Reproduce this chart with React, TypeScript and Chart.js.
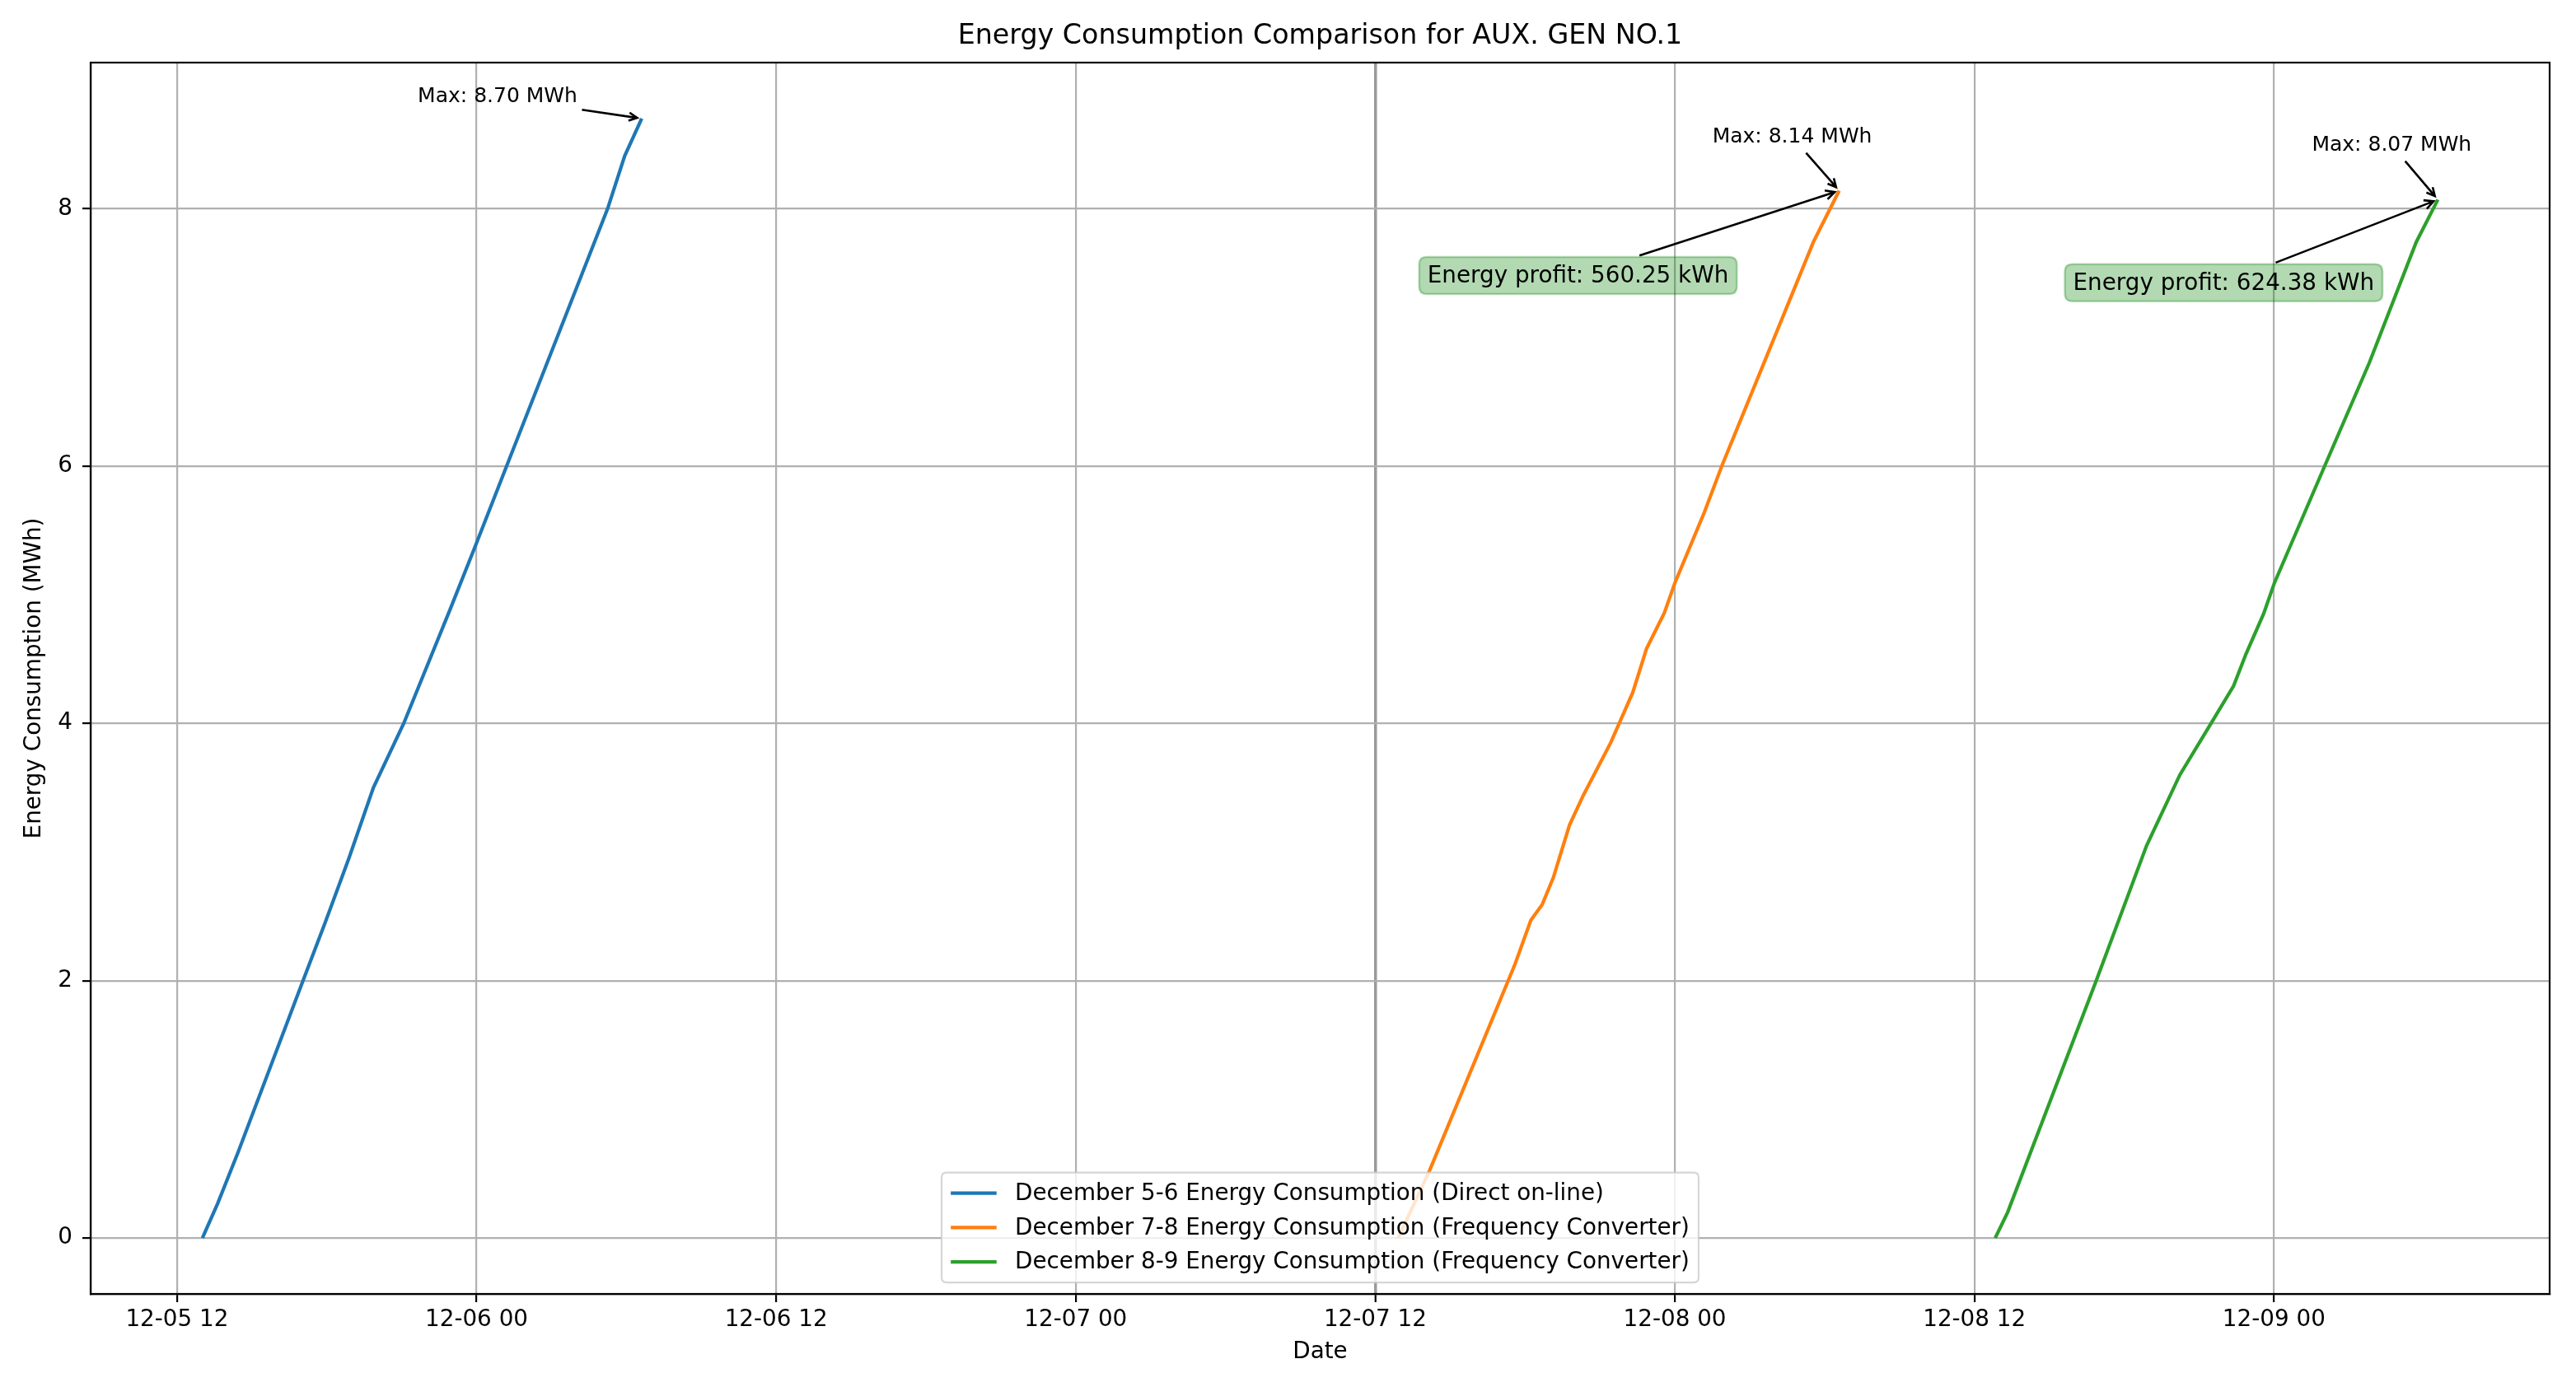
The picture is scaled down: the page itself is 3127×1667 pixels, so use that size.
import React, { useEffect, useRef } from 'react';
import { Chart, registerables } from 'chart.js';

Chart.register(...registerables);

const FONT = '"DejaVu Sans", Verdana, sans-serif';

// Readings, "MM-DD HH:mm" -> cumulative energy (MWh)
const dec56Times = [
  '12-05 13:01', '12-05 13:38', '12-05 14:26', '12-05 17:03', '12-05 17:56', '12-05 18:53',
  '12-05 19:52', '12-05 21:05', '12-05 22:57', '12-05 23:56', '12-06 01:16', '12-06 03:10',
  '12-06 05:15', '12-06 05:56', '12-06 06:37'
];
const dec56Values = [0, 0.27, 0.66, 2.0, 2.45, 2.95, 3.5, 4.0, 4.89, 5.37, 6.03, 6.97, 8.0, 8.41, 8.7];

const dec78Times = [
  '12-07 12:55', '12-07 14:10', '12-07 17:35', '12-07 18:14', '12-07 18:41', '12-07 19:08',
  '12-07 19:47', '12-07 20:20', '12-07 21:26', '12-07 22:19', '12-07 22:52', '12-07 23:35',
  '12-08 00:00', '12-08 01:11', '12-08 01:53', '12-08 04:02', '12-08 05:33', '12-08 06:35'
];
const dec78Values = [0, 0.52, 2.12, 2.47, 2.59, 2.8, 3.21, 3.44, 3.85, 4.24, 4.58, 4.86, 5.09, 5.64, 6.0, 7.02, 7.74, 8.14];

const dec89Times = [
  '12-08 12:50', '12-08 13:20', '12-08 16:53', '12-08 18:54', '12-08 20:14', '12-08 21:29',
  '12-08 22:23', '12-08 22:53', '12-08 23:35', '12-09 00:01', '12-09 02:02', '12-09 03:49',
  '12-09 05:42', '12-09 06:34'
];
const dec89Values = [0, 0.2, 2.0, 3.05, 3.6, 4.0, 4.29, 4.54, 4.85, 5.09, 6.0, 6.8, 7.74, 8.07];

const seriesLabels = [
  'December 5-6 Energy Consumption (Direct on-line)',
  'December 7-8 Energy Consumption (Frequency Converter)',
  'December 8-9 Energy Consumption (Frequency Converter)'
];
const seriesColors = ['#1f77b4', '#ff7f0e', '#2ca02c'];

const xTickHours = [12, 24, 36, 48, 60, 72, 84, 96];
const xTickLabels = ['12-05 12', '12-06 00', '12-06 12', '12-07 00', '12-07 12', '12-08 00', '12-08 12', '12-09 00'];
const yTicks = [0, 2, 4, 6, 8];

const maxLabels = ['Max: 8.70 MWh', 'Max: 8.14 MWh', 'Max: 8.07 MWh'];
const profitLabels = ['', 'Energy profit: 560.25 kWh', 'Energy profit: 624.38 kWh'];

// hours since 12-05 00:00
const toHours = (s: string) => {
  const day = parseInt(s.slice(3, 5), 10);
  const hh = parseInt(s.slice(6, 8), 10);
  const mm = parseInt(s.slice(9, 11), 10);
  return (day - 5) * 24 + hh + mm / 60;
};

const toPoints = (times: string[], values: number[]) =>
  times.map((t, i) => ({ x: toHours(t), y: values[i] }));

const allX = [...dec56Times, ...dec78Times, ...dec89Times].map(toHours);
const allY = [...dec56Values, ...dec78Values, ...dec89Values];
const xMin0 = Math.min(...allX);
const xMax0 = Math.max(...allX);
const yMin0 = Math.min(...allY);
const yMax0 = Math.max(...allY);
const xPad = (xMax0 - xMin0) * 0.05;
const yPad = (yMax0 - yMin0) * 0.05;

// text offsets (px) from the end point of each series
const maxOffsets = [[-175, -26], [-57, -65], [-56, -66]];
const profitOffsets = [[0, 0], [-317, 103], [-260, 101]];

const W = 3127;
const H = 1667;

function arrow(ctx: CanvasRenderingContext2D, sx: number, sy: number, tx: number, ty: number,
  hw: number, hh: number, headLen: number, headHalf: number) {
  const dx = tx - sx;
  const dy = ty - sy;
  const t = Math.min(hw / Math.abs(dx || 1e-6), hh / Math.abs(dy || 1e-6));
  const len = Math.hypot(dx, dy);
  const ux = dx / len;
  const uy = dy / len;
  const x1 = sx + dx * t + ux * 5.6;
  const y1 = sy + dy * t + uy * 5.6;
  const x2 = tx - ux * 5.6;
  const y2 = ty - uy * 5.6;
  ctx.save();
  ctx.strokeStyle = '#000';
  ctx.lineWidth = 2.6;
  ctx.lineCap = 'butt';
  ctx.beginPath();
  ctx.moveTo(x1, y1);
  ctx.lineTo(x2, y2);
  ctx.moveTo(x2 - ux * headLen - uy * headHalf, y2 - uy * headLen + ux * headHalf);
  ctx.lineTo(x2, y2);
  ctx.lineTo(x2 - ux * headLen + uy * headHalf, y2 - uy * headLen - ux * headHalf);
  ctx.stroke();
  ctx.restore();
}

function roundRect(ctx: CanvasRenderingContext2D, x: number, y: number, w: number, h: number, r: number) {
  ctx.beginPath();
  ctx.moveTo(x + r, y);
  ctx.lineTo(x + w - r, y);
  ctx.quadraticCurveTo(x + w, y, x + w, y + r);
  ctx.lineTo(x + w, y + h - r);
  ctx.quadraticCurveTo(x + w, y + h, x + w - r, y + h);
  ctx.lineTo(x + r, y + h);
  ctx.quadraticCurveTo(x, y + h, x, y + h - r);
  ctx.lineTo(x, y + r);
  ctx.quadraticCurveTo(x, y, x + r, y);
  ctx.closePath();
}

const decorPlugin = {
  id: 'decor',
  afterDatasetsDraw(chart: Chart) {
    const { ctx, chartArea: a } = chart;
    ctx.save();
    ctx.strokeStyle = '#000';
    ctx.lineWidth = 2.2;
    ctx.strokeRect(a.left, a.top, a.right - a.left, a.bottom - a.top);
    ctx.restore();
  },
  afterDraw(chart: Chart) {
    const { ctx, chartArea: a } = chart;
    const cx = (a.left + a.right) / 2;
    ctx.save();
    ctx.fillStyle = '#000';
    ctx.textAlign = 'center';
    ctx.textBaseline = 'middle';

    ctx.font = `33.3px ${FONT}`;
    ctx.fillText('Energy Consumption Comparison for AUX. GEN NO.1', cx, 44);

    ctx.font = `27.8px ${FONT}`;
    ctx.fillText('Date', cx, 1642);
    ctx.save();
    ctx.translate(42, (a.top + a.bottom) / 2);
    ctx.rotate(-Math.PI / 2);
    ctx.fillText('Energy Consumption (MWh)', 0, 0);
    ctx.restore();

    // annotations at each series' last (max) point
    chart.data.datasets.forEach((_, i) => {
      const pts = chart.getDatasetMeta(i).data;
      const p = pts[pts.length - 1];
      const px = p.x;
      const py = p.y;

      ctx.font = `25px ${FONT}`;
      const mx = px + maxOffsets[i][0];
      const my = py + maxOffsets[i][1];
      ctx.fillStyle = '#000';
      ctx.fillText(maxLabels[i], mx, my);
      const mw = ctx.measureText(maxLabels[i]).width;
      arrow(ctx, mx, my, px, py, mw / 2, 15, 10, 5);

      if (profitLabels[i]) {
        ctx.font = `27.8px ${FONT}`;
        const bx = px + profitOffsets[i][0];
        const by = py + profitOffsets[i][1];
        const tw = ctx.measureText(profitLabels[i]).width;
        const bw = tw + 20;
        const bh = 45;
        roundRect(ctx, bx - bw / 2, by - bh / 2, bw, bh, 9);
        ctx.fillStyle = 'rgba(0,128,0,0.3)';
        ctx.fill();
        ctx.strokeStyle = 'rgba(0,128,0,0.3)';
        ctx.lineWidth = 2.5;
        ctx.stroke();
        ctx.fillStyle = '#000';
        ctx.fillText(profitLabels[i], bx, by + 1);
        arrow(ctx, bx, by, px, py, bw / 2, bh / 2, 11, 5.6);
      }
    });

    // legend, lower centre
    ctx.font = `27.8px ${FONT}`;
    const fs = 27.8;
    const textW = Math.max(...seriesLabels.map((s) => ctx.measureText(s).width));
    const lw = 0.4 * fs * 2 + 2 * fs + 0.8 * fs + textW;
    const lh = 0.4 * fs * 2 + seriesLabels.length * fs + (seriesLabels.length - 1) * 0.5 * fs;
    const lx = cx - lw / 2;
    const ly = a.bottom - 0.5 * fs - lh;
    roundRect(ctx, lx, ly, lw, lh, 6);
    ctx.fillStyle = 'rgba(255,255,255,0.8)';
    ctx.fill();
    ctx.strokeStyle = 'rgba(204,204,204,0.8)';
    ctx.lineWidth = 2.2;
    ctx.stroke();
    ctx.textAlign = 'left';
    seriesLabels.forEach((s, i) => {
      const ry = ly + 0.4 * fs + fs / 2 + i * 1.5 * fs;
      ctx.strokeStyle = seriesColors[i];
      ctx.lineWidth = 4.2;
      ctx.beginPath();
      ctx.moveTo(lx + 0.4 * fs, ry);
      ctx.lineTo(lx + 0.4 * fs + 2 * fs, ry);
      ctx.stroke();
      ctx.fillStyle = '#000';
      ctx.fillText(s, lx + 0.4 * fs + 2.8 * fs, ry + 1);
    });
    ctx.restore();
  }
};

const App: React.FC = () => {
  const chartRef = useRef<HTMLCanvasElement>(null);
  const chartInstance = useRef<Chart | null>(null);

  useEffect(() => {
    document.body.style.margin = '0';
    if (!chartRef.current) return;
    if (chartInstance.current) chartInstance.current.destroy();
    const ctx = chartRef.current.getContext('2d');
    if (!ctx) return;

    const datasets = [
      toPoints(dec56Times, dec56Values),
      toPoints(dec78Times, dec78Values),
      toPoints(dec89Times, dec89Values)
    ].map((data, i) => ({
      label: seriesLabels[i],
      data,
      borderColor: seriesColors[i],
      backgroundColor: seriesColors[i],
      borderWidth: 4.2,
      pointRadius: 0,
      tension: 0,
      fill: false
    }));

    chartInstance.current = new Chart(ctx, {
      type: 'line',
      data: { datasets },
      options: {
        animation: false,
        responsive: false,
        devicePixelRatio: 1,
        layout: { padding: { top: 76, right: 32, left: 0, bottom: 0 } },
        plugins: {
          legend: { display: false },
          title: { display: false },
          tooltip: { enabled: false }
        },
        scales: {
          x: {
            type: 'linear',
            min: xMin0 - xPad,
            max: xMax0 + xPad,
            afterFit: (scale: any) => { scale.height = 96; },
            afterBuildTicks: (scale: any) => { scale.ticks = xTickHours.map((v) => ({ value: v })); },
            border: { display: true, color: '#000', width: 2.2 },
            grid: {
              color: (c: any) => (c.tick && c.tick.value === 60 ? '#9a9a9a' : '#b0b0b0'),
              lineWidth: (c: any) => (c.tick && c.tick.value === 60 ? 3.5 : 2.2),
              drawTicks: true,
              tickLength: 10,
              tickColor: '#000',
              tickWidth: 2.2
            },
            ticks: {
              autoSkip: false,
              maxRotation: 0,
              padding: 5,
              color: '#000',
              font: { family: FONT, size: 27.8 },
              callback: (v: any) => xTickLabels[xTickHours.indexOf(Number(v))] ?? ''
            }
          },
          y: {
            type: 'linear',
            min: yMin0 - yPad,
            max: yMax0 + yPad,
            afterFit: (scale: any) => { scale.width = 110; },
            afterBuildTicks: (scale: any) => { scale.ticks = yTicks.map((v) => ({ value: v })); },
            border: { display: true, color: '#000', width: 2.2 },
            grid: {
              color: '#b0b0b0',
              lineWidth: 2.2,
              drawTicks: true,
              tickLength: 10,
              tickColor: '#000',
              tickWidth: 2.2
            },
            ticks: {
              padding: 12,
              color: '#000',
              font: { family: FONT, size: 27.8 },
              callback: (v: any) => String(v)
            }
          }
        }
      },
      plugins: [decorPlugin]
    });

    return () => {
      if (chartInstance.current) {
        chartInstance.current.destroy();
        chartInstance.current = null;
      }
    };
  }, []);

  return (
    <div style={{ width: W, height: H, background: '#fff' }}>
      <canvas ref={chartRef} width={W} height={H} style={{ width: W, height: H, display: 'block' }}></canvas>
    </div>
  );
};

export default App;
